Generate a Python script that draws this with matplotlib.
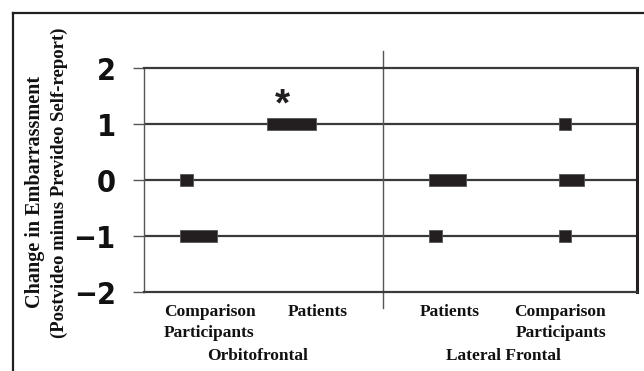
import matplotlib
matplotlib.use("Agg")
import matplotlib.pyplot as plt
from matplotlib.lines import Line2D

# Embarrassment change scores; each square is one participant
levels = [1, 0, -1]
orbito_comparison = [0, 1, 3]
orbito_patients = [4, 0, 0]
lateral_patients = [0, 3, 1]
lateral_comparison = [1, 2, 1]

group_labels = ["Comparison\nParticipants", "Patients", "Patients", "Comparison\nParticipants"]
region_labels = ["Orbitofrontal", "Lateral Frontal"]
yticks = [2, 1, 0, -1, -2]
ytick_labels = ["2", "1", "0", "\u22121", "\u22122"]
ylabel_lines = ["Change in Embarrassment", "(Postvideo minus Prevideo Self-report)"]

W, H = 644, 371
fig = plt.figure(figsize=(W / 100, H / 100), dpi=100)
fig.patch.set_facecolor("white")

ax = fig.add_axes([143.5 / W, 1 - 292 / H, (636.5 - 143.5) / W, (292 - 68) / H])
ax.set_xlim(0, 40)
ax.set_ylim(-2, 2)

dark = "#231f20"
line_col = "#3a3a3a"

# horizontal reference lines
for v in levels:
    ax.axhline(v, color=line_col, lw=1.6, zorder=1)

# participant squares: one unit of width per participant
col_starts = [3.0, 10.0, 23.2, 33.7]
sq_h = 0.232
for x0, counts in zip(col_starts, [orbito_comparison, orbito_patients,
                                   lateral_patients, lateral_comparison]):
    ys = [lv for lv, c in zip(levels, counts) if c > 0]
    ws = [c for c in counts if c > 0]
    ax.barh(ys, ws, left=x0, height=sq_h, color=dark,
            edgecolor="#555555", linewidth=0.6, zorder=3)

# significance marker
ax.text(11.3, 1.33, "*", ha="center", va="center", fontsize=28,
        family="Liberation Sans", fontweight="bold", color=dark)

# divider between regions
ax.plot([19.4, 19.4], [-2.29, 2.30], color="#555555", lw=1.0, clip_on=False, zorder=2)

# spines
for s in ["top", "bottom"]:
    ax.spines[s].set_color(line_col)
    ax.spines[s].set_linewidth(1.6)
ax.spines["left"].set_color("#555555")
ax.spines["left"].set_linewidth(1.0)
ax.spines["right"].set_color(dark)
ax.spines["right"].set_linewidth(2.2)

ax.set_xticks([])
ax.set_yticks(yticks)
ax.set_yticklabels(ytick_labels, family=["DejaVu Sans", "Liberation Sans"],
                   fontstretch="condensed", fontweight="bold", fontsize=22,
                   color="#111111")
ax.tick_params(axis="y", length=8, width=1.0, color="#555555", pad=12)

# y-axis title (two lines)
serif = "Liberation Serif"
fig.text(35 / W, 1 - 192 / H, ylabel_lines[0], rotation=90, ha="center", va="center",
         family=serif, fontweight="bold", fontsize=14.5, color="#111111")
fig.text(59 / W, 1 - 183 / H, ylabel_lines[1], rotation=90, ha="center", va="center",
         family=serif, fontweight="bold", fontsize=13.5, color="#111111")

# group labels
lab_kw = dict(family=serif, fontweight="bold", fontsize=12.5, color="#111111",
              linespacing=1.45, va="top")
fig.text(164 / W, 1 - 304 / H, group_labels[0], ha="left", **lab_kw)
fig.text(287.5 / W, 1 - 304 / H, group_labels[1], ha="left", **lab_kw)
fig.text(419.7 / W, 1 - 304 / H, group_labels[2], ha="left", **lab_kw)
fig.text(606 / W, 1 - 304 / H, group_labels[3], ha="right", multialignment="right", **lab_kw)
fig.text(258 / W, 1 - 348 / H, region_labels[0], ha="center", **lab_kw)
fig.text(503.5 / W, 1 - 348 / H, region_labels[1], ha="center", **lab_kw)

# outer frame (left and top edges)
fig.add_artist(Line2D([13 / W, 13 / W], [0, 1 - 13 / H], transform=fig.transFigure,
                      color=dark, lw=1.6))
fig.add_artist(Line2D([13 / W, 1], [1 - 13 / H, 1 - 13 / H], transform=fig.transFigure,
                      color=dark, lw=1.6))

fig.savefig("out.png", dpi=100)
